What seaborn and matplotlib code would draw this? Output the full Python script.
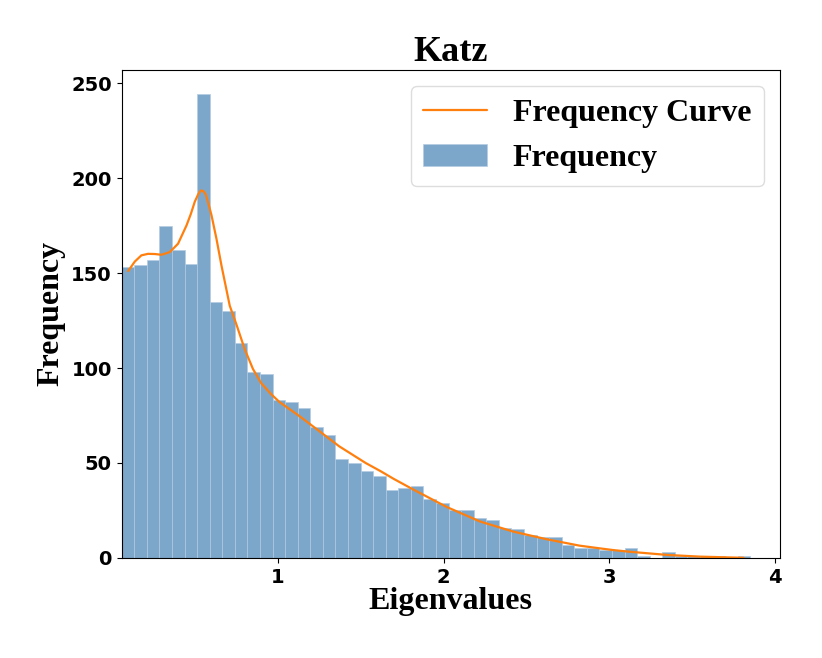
import numpy as np
import pandas as pd
import matplotlib
matplotlib.use('Agg')
import matplotlib.pyplot as plt
import seaborn as sns

# Гистограмма собственных значений (Katz), 50 бинов
bin_start = 0.058
bin_stop = 3.85
n_bins = 50
counts = [153, 154, 157, 175, 162, 155, 244, 135, 130, 113,
          98, 97, 83, 82, 79, 69, 65, 52, 50, 46,
          43, 36, 37, 38, 31, 29, 25, 25, 21, 20,
          16, 15, 12, 11, 11, 7, 5, 5, 4, 4,
          5, 1, 0, 3, 1, 1, 1, 1, 0, 1]

# Сглаженная кривая частот
curve_x = [0.097, 0.137, 0.177, 0.217, 0.258, 0.298, 0.348, 0.398, 0.449, 0.475,
           0.499, 0.52, 0.535, 0.55, 0.565, 0.58, 0.60, 0.63, 0.66, 0.71,
           0.75, 0.80, 0.85, 0.90, 0.96, 1.01, 1.13, 1.25, 1.37, 1.53, 1.62,
           1.70, 1.82, 2.02, 2.22, 2.42, 2.62, 2.82, 2.94, 3.02, 3.12,
           3.35, 3.55, 3.81]
curve_y = [151, 156, 159.3, 160.1, 160, 159.6, 161, 165.4, 175, 181,
           187.5, 191.5, 193.4, 193.2, 191.5, 187, 180.4, 168, 154, 132.8,
           123, 110, 99.5, 92, 86.2, 82.1, 74.7, 66.8, 58.8, 50, 45.7,
           41.6, 35.9, 26.8, 19.2, 13.9, 9.9, 6.5, 5.1, 4.2, 3.3,
           1.6, 0.7, 0.1]

x_ticks = [1, 2, 3, 4]
y_ticks = [0, 50, 100, 150, 200, 250]

edges = np.linspace(bin_start, bin_stop, n_bins + 1)
centers = (edges[:-1] + edges[1:]) / 2
df = pd.DataFrame({'eig': centers, 'count': counts})
curve = pd.DataFrame({'eig': curve_x, 'freq': curve_y})

sns.set_style('ticks')
plt.rcParams['font.family'] = ['DejaVu Sans']
serif = ['Liberation Serif', 'DejaVu Serif']

fig = plt.figure(figsize=(8.22, 6.58), dpi=100)
ax = fig.add_axes([0.148, 0.152, 0.801, 0.742])

sns.histplot(data=df, x='eig', weights='count', bins=n_bins,
             binrange=(bin_start, bin_stop),
             color='steelblue', alpha=0.7, edgecolor='#b3cce2', linewidth=0.5,
             label='Frequency', ax=ax)
sns.lineplot(data=curve, x='eig', y='freq', color='#ff7f0e', linewidth=1.6,
             label='Frequency Curve', ax=ax)

ax.set_xlim(bin_start, 4.03)
ax.set_ylim(0, 257)
ax.set_xticks(x_ticks)
ax.set_yticks(y_ticks)
ax.tick_params(colors='black', labelsize=14)
for lab in ax.get_xticklabels() + ax.get_yticklabels():
    lab.set_fontweight('bold')
for sp in ax.spines.values():
    sp.set_visible(True)
    sp.set_color('black')

ax.set_title('Katz', fontsize=26, fontweight='bold', family=serif, color='black')
ax.set_xlabel('Eigenvalues', fontsize=23, fontweight='bold', family=serif,
              color='black', labelpad=0)
ax.set_ylabel('Frequency', fontsize=23, fontweight='bold', family=serif,
              color='black', labelpad=4)

handles, labels = ax.get_legend_handles_labels()
order = [labels.index('Frequency Curve'), labels.index('Frequency')]
ax.legend([handles[i] for i in order], [labels[i] for i in order],
          loc='upper right', prop={'family': serif, 'weight': 'bold', 'size': 23},
          fancybox=True, framealpha=1, edgecolor='#dddddd', labelcolor='black')

fig.savefig('out.png', dpi=100)
